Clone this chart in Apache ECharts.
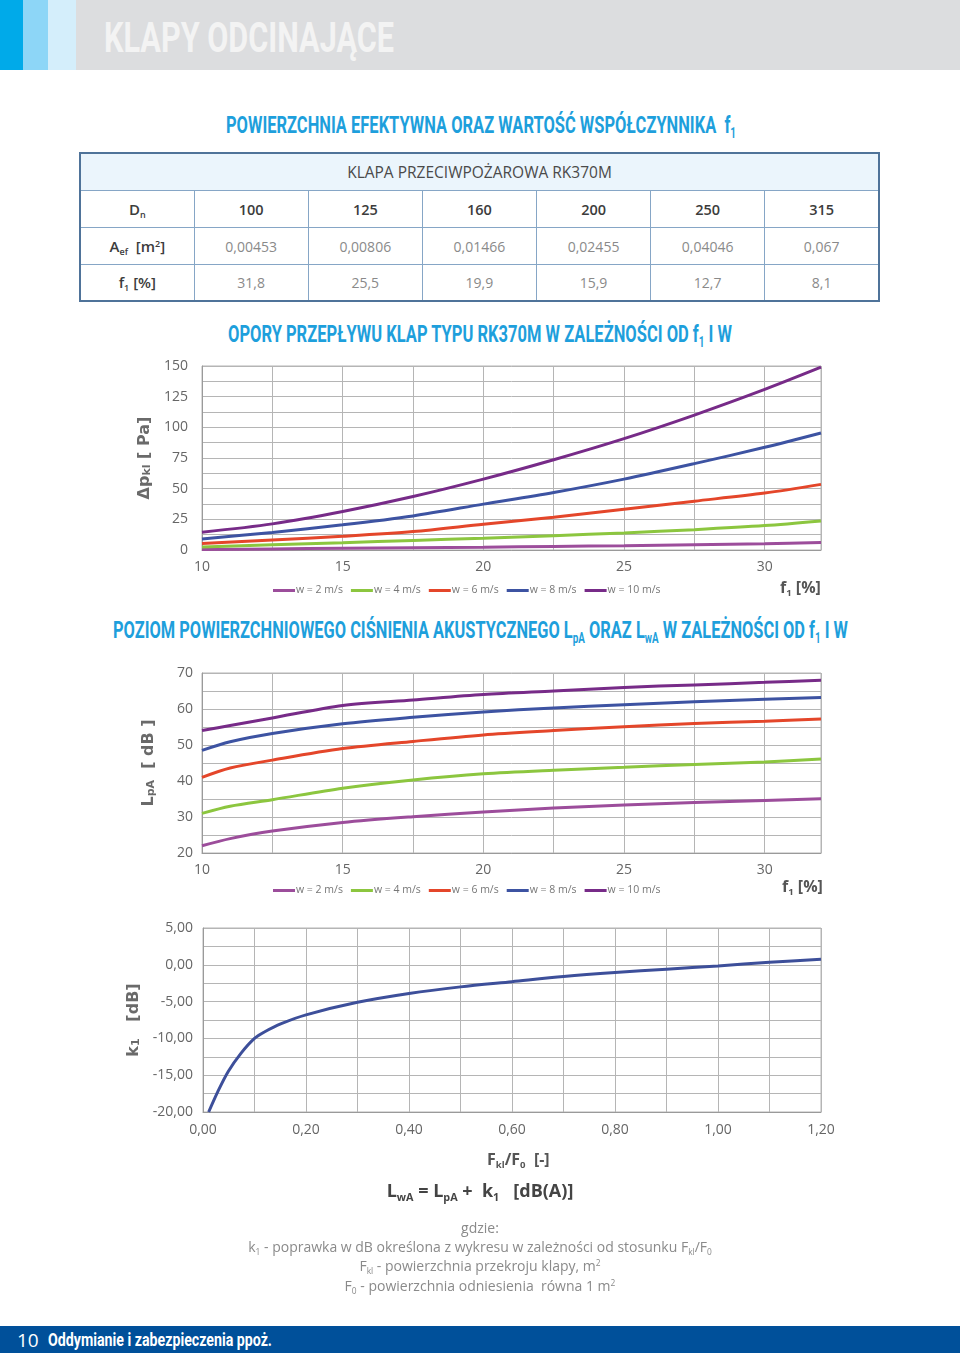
<!DOCTYPE html>
<html><head><meta charset="utf-8">
<script src="https://cdn.jsdelivr.net/npm/echarts@6/dist/echarts.min.js"></script>
<style>
html,body{margin:0;padding:0;width:960px;height:1353px;background:#fff;overflow:hidden;font-family:"Open Sans",sans-serif;}
#page{position:relative;width:960px;height:1353px;}
#chart{position:absolute;left:0;top:0;width:960px;height:1353px;}
.abs{position:absolute;white-space:nowrap;line-height:1;}
.cond{font-family:Roboto,sans-serif;font-weight:700;transform-origin:0 50%;}
.blue{color:#1e9fdc;}
sub{font-size:60%;vertical-align:-0.35em;line-height:0;}
sup{font-size:60%;vertical-align:0.6em;line-height:0;}
#tbl{position:absolute;left:79px;top:152px;width:801px;border-collapse:collapse;border:2px solid #4f7399;table-layout:fixed;}
#tbl td{border:1px solid #86a6c6;text-align:center;padding:0;font-size:14px;color:#8a8a8a;}
#tbl tr.hd td{background:#ebf5fc;color:#4a4a4a;height:36px;font-size:15.5px;}
#tbl td.lab{color:#3c3c3c;font-weight:600;font-size:15px;}
#tbl td.num{color:#3c3c3c;font-weight:600;font-size:14.5px;}
.ctr{position:absolute;left:0;width:960px;text-align:center;white-space:nowrap;line-height:1;}
</style></head>
<body><div id="page">
<div class="abs" style="left:0;top:0;width:960px;height:70px;background:#dcdddf;"></div>
<div class="abs" style="left:0;top:0;width:23px;height:70px;background:#00aae9;"></div>
<div class="abs" style="left:23px;top:0;width:25px;height:70px;background:#8dd6f7;"></div>
<div class="abs" style="left:48px;top:0;width:28px;height:70px;background:#d4eefb;"></div>
<div id="t0" class="abs cond" style="left:104px;top:17px;font-size:42px;color:#f3f3f3;">KLAPY ODCINAJĄCE</div>

<div id="t1" class="abs cond blue" style="left:226px;top:114px;font-size:23px;">POWIERZCHNIA EFEKTYWNA ORAZ WARTOŚĆ WSPÓŁCZYNNIKA&nbsp; f<sub>1</sub></div>
<table id="tbl"></table>

<div id="t2" class="abs cond blue" style="left:228px;top:323px;font-size:23px;">OPORY PRZEPŁYWU KLAP TYPU RK370M W ZALEŻNOŚCI OD f<sub>1</sub> I W</div>
<div id="t3" class="abs cond blue" style="left:113px;top:619px;font-size:23px;">POZIOM POWIERZCHNIOWEGO CIŚNIENIA AKUSTYCZNEGO L<sub>pA</sub> ORAZ L<sub>wA</sub> W ZALEŻNOŚCI OD f<sub>1</sub> I W</div>

<div id="chart"></div>

<div class="abs" style="left:780px;top:579px;font-size:16px;font-weight:700;color:#555;">f<sub>1</sub> [%]</div>
<div class="abs" style="left:782px;top:878px;font-size:16px;font-weight:700;color:#555;">f<sub>1</sub> [%]</div>

<div class="abs" style="left:487px;top:1151px;font-size:16px;font-weight:700;color:#555;">F<sub>kl</sub>/F<sub>0</sub>&nbsp; [-]</div>
<div class="ctr" style="top:1181px;font-size:18px;font-weight:700;color:#444;">L<sub>wA</sub> = L<sub>pA</sub> + &nbsp;k<sub>1</sub> &nbsp;&nbsp;[dB(A)]</div>
<div class="ctr" style="top:1221px;font-size:14px;color:#8a8a8a;">gdzie:</div>
<div class="ctr" style="top:1240px;font-size:14px;color:#8a8a8a;">k<sub>1</sub> - poprawka w dB określona z wykresu w zależności od stosunku F<sub>kl</sub>/F<sub>0</sub></div>
<div class="ctr" style="top:1259px;font-size:14px;color:#8a8a8a;">F<sub>kl</sub> - powierzchnia przekroju klapy, m<sup>2</sup></div>
<div class="ctr" style="top:1279px;font-size:14px;color:#8a8a8a;">F<sub>0</sub> - powierzchnia odniesienia &nbsp;równa 1 m<sup>2</sup></div>

<div class="abs" style="left:0;top:1326px;width:960px;height:27px;background:#00509a;"></div>
<div class="abs" style="left:17px;top:1331px;font-size:19px;color:#fff;font-family:'Open Sans',sans-serif;">10</div>
<div id="t4" class="abs cond" style="left:48px;top:1331px;font-size:18px;color:#fff;">Oddymianie i zabezpieczenia ppoż.</div>
</div>
<script>
// ---- table data ----
const tableTitle = 'KLAPA PRZECIWPOŻAROWA RK370M';
const dnVals = ['100','125','160','200','250','315'];
const aefVals = ['0,00453','0,00806','0,01466','0,02455','0,04046','0,067'];
const f1Vals = ['31,8','25,5','19,9','15,9','12,7','8,1'];

// ---- chart 1: pressure drop [Pa] vs f1 [%] ----
const fP = [10, 12.5, 15, 17.5, 20, 22.5, 25, 27.5, 30, 32];
const dp_w2 = [0.4, 0.9, 1.4, 1.9, 2.3, 2.9, 3.5, 4.3, 5.1, 6.2];
const dp_w4 = [2.5, 4.3, 6, 7.8, 9.6, 11.7, 13.9, 16.6, 19.9, 23.7];
const dp_w6 = [5.2, 8.2, 11.2, 15, 21, 26.7, 33.3, 39.8, 46.4, 53.5];
const dp_w8 = [9, 14.3, 20.5, 27.8, 37.4, 46.9, 57.8, 70.4, 83.7, 95.4];
const dp_w10 = [14.5, 21.3, 31.4, 43.6, 57.8, 73.6, 90.8, 110, 130.9, 149];

// ---- chart 2: LpA [dB] vs f1 [%] ----
const fL = [10, 11, 12.5, 15, 17.5, 20, 22.5, 25, 27.5, 30, 32];
const lp_w2 = [22, 24, 26.1, 28.5, 30.1, 31.4, 32.5, 33.3, 34, 34.6, 35.1];
const lp_w4 = [31, 33, 34.8, 38, 40.3, 42, 43, 43.8, 44.6, 45.3, 46.1];
const lp_w6 = [41, 43.6, 45.8, 49, 51, 52.8, 54, 55.1, 56, 56.6, 57.2];
const lp_w8 = [48.5, 50.9, 53.2, 55.9, 57.7, 59.2, 60.3, 61.2, 62, 62.7, 63.2];
const lp_w10 = [54, 55.4, 57.5, 61, 62.5, 64, 65, 66, 66.7, 67.4, 68];

// ---- chart 3: k1 [dB] vs Fkl/F0 ----
const k1X = [0.011, 0.029, 0.049, 0.074, 0.1, 0.12, 0.152, 0.2, 0.3, 0.4, 0.5, 0.6, 0.7, 0.8, 0.9, 1.0, 1.1, 1.2];
const k1Y = [-20, -17.2, -14.5, -12, -10, -9.1, -8, -6.8, -5.1, -3.9, -3, -2.3, -1.6, -1.05, -0.6, -0.15, 0.35, 0.75];

const seriesNames = ['w = 2 m/s','w = 4 m/s','w = 6 m/s','w = 8 m/s','w = 10 m/s'];
const seriesColors = ['#9c4d9b','#8cc63f','#e4462a','#3d53a2','#772b88'];
const k1Color = '#3d4f9a';

// build table
(function(){
  const t = document.getElementById('tbl');
  let h = '<colgroup>' + '<col style="width:114px">'.repeat(7) + '</colgroup>';
  h += '<tr class="hd"><td colspan="7">' + tableTitle + '</td></tr>';
  h += '<tr style="height:37px"><td class="lab">D<sub>n</sub></td>' + dnVals.map(v=>'<td class="num">'+v+'</td>').join('') + '</tr>';
  h += '<tr style="height:37px"><td class="lab">A<sub>ef</sub>&nbsp; [m<sup>2</sup>]</td>' + aefVals.map(v=>'<td>'+v+'</td>').join('') + '</tr>';
  h += '<tr style="height:36px"><td class="lab">f<sub>1</sub> [%]</td>' + f1Vals.map(v=>'<td>'+v+'</td>').join('') + '</tr>';
  t.innerHTML = h;
})();

function fit(id, w){
  const el = document.getElementById(id);
  el.style.transform = 'none';
  const r = el.getBoundingClientRect().width;
  el.style.transform = 'scaleX(' + (w / r) + ')';
}
function fitAll(){ fit('t0',290); fit('t1',510); fit('t2',504); fit('t3',735); fit('t4',224); }
fitAll();
if (document.fonts && document.fonts.ready) document.fonts.ready.then(fitAll);

const zip = (xs, ys) => xs.map((x,i)=>[x, ys[i]]);
const gridColor = '#b5b5b5';
const lblStyle = {color:'#666', fontSize:14, fontFamily:'Open Sans'};
const nameStyleRich = {
  a:{fontSize:16, fontWeight:'bold', color:'#6a6a6a', fontFamily:'DejaVu Sans'},
  b:{fontSize:11, fontWeight:'bold', color:'#6a6a6a', fontFamily:'DejaVu Sans', padding:[4,0,0,0]}
};
function xAx(grid, min, max, interval, fmt, margin){
  return {gridIndex:grid, type:'value', min, max, interval,
    axisLine:{show:true, onZero:false, lineStyle:{color:'#9a9a9a', width:1}},
    axisTick:{show:false},
    splitLine:{show:true, lineStyle:{color:gridColor, width:1}},
    axisLabel:Object.assign({formatter:fmt, margin:margin}, lblStyle)};
}
function yAx(grid, min, max, interval, fmt, margin, name, gap){
  return {gridIndex:grid, type:'value', min, max, interval,
    name:name, nameLocation:'middle', nameRotate:90, nameGap:gap,
    nameTextStyle:{rich:nameStyleRich},
    axisLine:{show:true, lineStyle:{color:'#9a9a9a', width:1}},
    axisTick:{show:false},
    splitLine:{show:true, lineStyle:{color:gridColor, width:1}},
    axisLabel:Object.assign({formatter:fmt, margin:margin}, lblStyle)};
}
const fmtF = v => (Math.abs(v % 5) < 1e-9 && v <= 30) ? String(v) : '';
const fmtP = v => (Math.abs(v % 25) < 1e-9) ? String(v) : '';
const fmtL = v => (Math.abs(v % 10) < 1e-9) ? String(v) : '';
const fmtKx = v => { const r = Math.round(v*100); return (r % 20 === 0) ? (r/100).toFixed(2).replace('.', ',') : ''; };
const fmtKy = v => { const r = Math.round(v*10); return (r % 50 === 0) ? (r/10).toFixed(2).replace('.', ',') : ''; };

const dpSets = [dp_w2, dp_w4, dp_w6, dp_w8, dp_w10];
const lpSets = [lp_w2, lp_w4, lp_w6, lp_w8, lp_w10];
const series = [];
dpSets.forEach((d,i)=>series.push({type:'line', name:seriesNames[i], xAxisIndex:0, yAxisIndex:0,
  data:zip(fP,d), smooth:0.3, showSymbol:false, lineStyle:{width:3, color:seriesColors[i]}, itemStyle:{color:seriesColors[i]}}));
lpSets.forEach((d,i)=>series.push({type:'line', name:seriesNames[i], xAxisIndex:1, yAxisIndex:1,
  data:zip(fL,d), smooth:0.3, showSymbol:false, lineStyle:{width:3, color:seriesColors[i]}, itemStyle:{color:seriesColors[i]}}));
series.push({type:'line', name:'k1', xAxisIndex:2, yAxisIndex:2, data:zip(k1X,k1Y), smooth:0.3, showSymbol:false,
  lineStyle:{width:3, color:k1Color}, itemStyle:{color:k1Color}});

const legendBase = {icon:'rect', itemWidth:22, itemHeight:3, itemGap:8, data:seriesNames,
  textStyle:{color:'#777', fontSize:10.5, fontFamily:'Open Sans', padding:[0,0,0,-4]}, selectedMode:false};

const chart = echarts.init(document.getElementById('chart'), null, {renderer:'canvas'});
chart.setOption({
  animation:false,
  backgroundColor:'transparent',
  grid:[
    {left:202, top:366, width:619, height:184, show:true, borderColor:gridColor, borderWidth:1, containLabel:false},
    {left:202, top:673, width:619, height:180, show:true, borderColor:gridColor, borderWidth:1, containLabel:false},
    {left:203, top:928, width:618, height:184, show:true, borderColor:gridColor, borderWidth:1, containLabel:false}
  ],
  legend:[
    Object.assign({left:268, top:580}, legendBase),
    Object.assign({left:268, top:880}, legendBase)
  ],
  xAxis:[
    xAx(0, 10, 32, 2.5, fmtF, 10),
    xAx(1, 10, 32, 2.5, fmtF, 10),
    xAx(2, 0, 1.2, 0.1, fmtKx, 11)
  ],
  yAxis:[
    yAx(0, 0, 150, 12.5, fmtP, 14, '{a|Δp}{b|kl}{a| [ Pa]}', 42),
    yAx(1, 20, 70, 5, fmtL, 9, '{a|L}{b|pA}{a|  [ dB ]}', 45),
    yAx(2, -20, 5, 2.5, fmtKy, 10, '{a|k}{b|1}{a|   [dB]}', 55)
  ],
  series:series
});
</script>
</body></html>
